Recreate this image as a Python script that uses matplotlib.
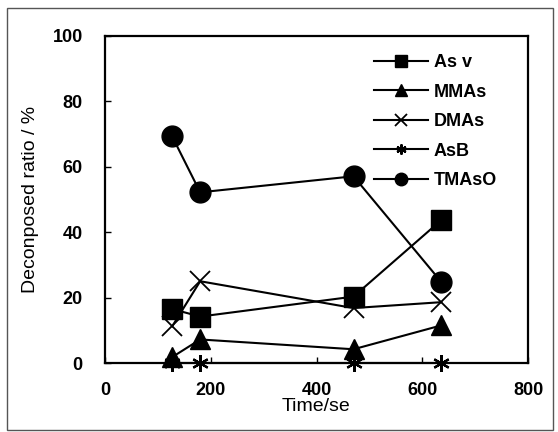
import matplotlib.pyplot as plt
from matplotlib.patches import Rectangle

# time points (s)
time = [127, 180, 470, 636]

as_v = [16.5, 14.2, 20.3, 43.7]
mmas = [1.8, 7.2, 4.2, 11.5]
dmas = [11.2, 25.0, 16.8, 18.6]
asb = [0, 0, 0, 0]
tmaso = [69.3, 52.2, 57.1, 24.8]

series = ["As v", "MMAs", "DMAs", "AsB", "TMAsO"]

plt.rcParams["font.family"] = ["Liberation Sans", "DejaVu Sans"]
plt.rcParams["font.weight"] = "bold"

fig = plt.figure(figsize=(5.58, 4.32), dpi=100)
ax = fig.add_axes([105 / 558, 1 - 363 / 432, 423 / 558, 327 / 432])

lw = 1.5
ax.plot(time, as_v, color="black", lw=lw, marker="s", ms=14, label=series[0], clip_on=False)
ax.plot(time, mmas, color="black", lw=lw, marker="^", ms=15, label=series[1], clip_on=False)
ax.plot(time, dmas, color="black", lw=lw, marker="x", ms=14, mew=1.3, label=series[2], clip_on=False)
ax.plot(time, asb, color="black", lw=lw, marker=(6, 2, 0), ms=12, mew=1.6, label=series[3], clip_on=False)
ax.plot(time, tmaso, color="black", lw=lw, marker="o", ms=15, label=series[4], clip_on=False)

ax.set_xlim(0, 800)
ax.set_ylim(0, 100)
ax.set_xticks([0, 200, 400, 600, 800])
ax.set_yticks([0, 20, 40, 60, 80, 100])
ax.tick_params(direction="in", length=4, width=1, labelsize=13)
ax.tick_params(axis="y", pad=16)
ax.tick_params(axis="x", pad=14)
for s in ax.spines.values():
    s.set_linewidth(1.6)

ax.set_xlabel("Time/se", fontsize=14, fontweight="normal", labelpad=-1)
ax.set_ylabel("Deconposed ratio / %", fontsize=14, fontweight="normal", labelpad=10)

leg = ax.legend(loc="upper right", frameon=False, fontsize=13, markerscale=0.6,
                handlelength=3.0, labelspacing=0.7, handletextpad=0.3,
                bbox_to_anchor=(0.965, 0.995))

fig.patches.append(Rectangle((7 / 558, 2 / 432), 546 / 558, 422 / 432,
                             transform=fig.transFigure, fill=False,
                             edgecolor="#555555", lw=1))

fig.savefig("out.png", dpi=100)
